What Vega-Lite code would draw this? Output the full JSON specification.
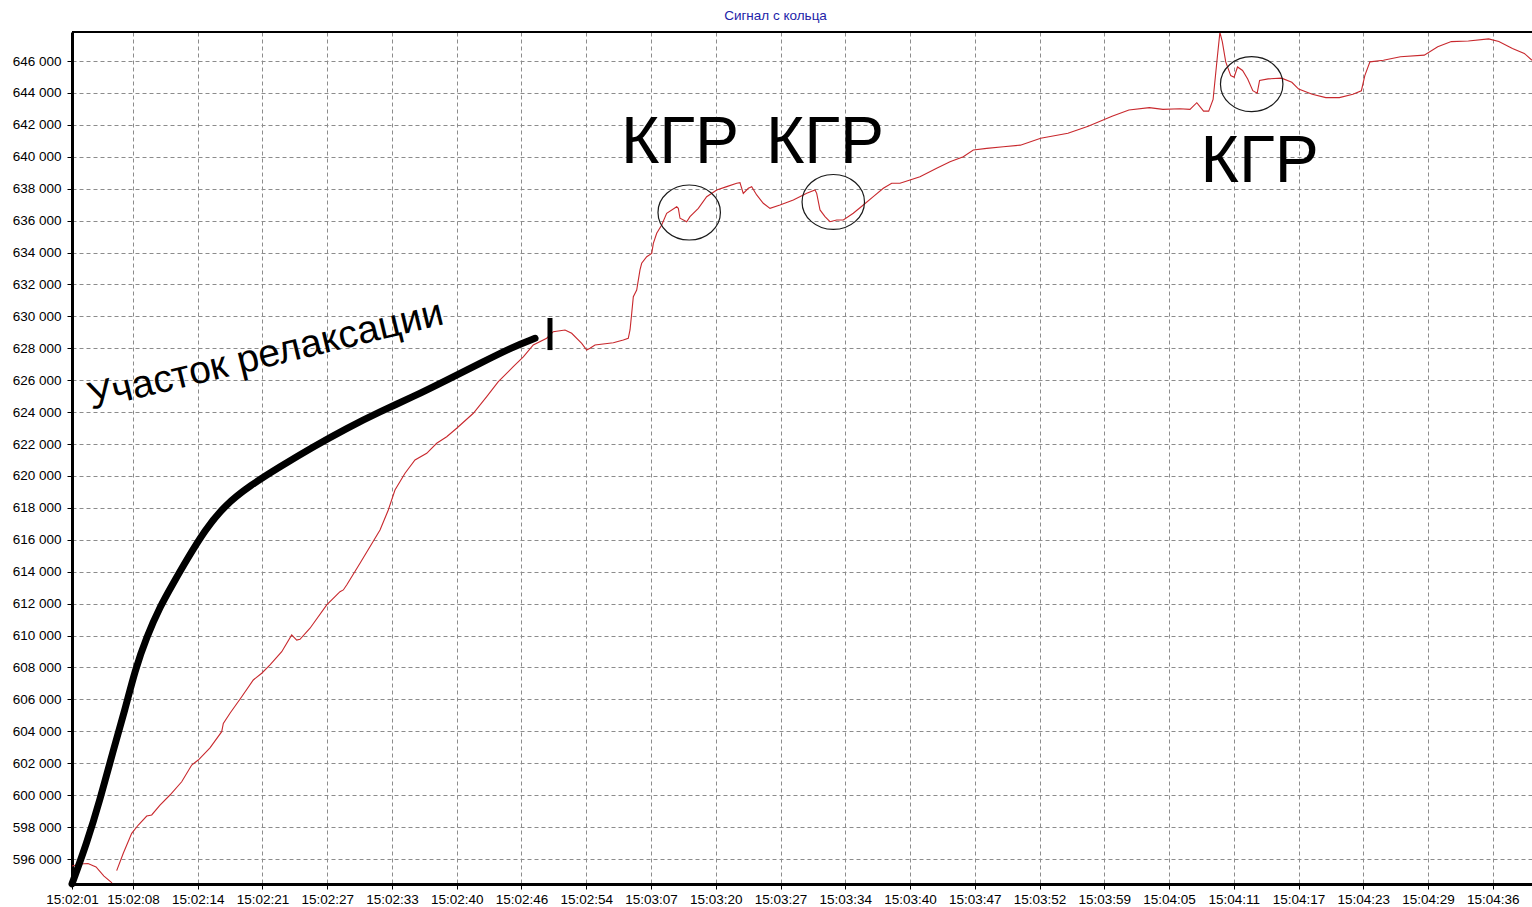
{
  "$schema": "https://vega.github.io/schema/vega-lite/v6.json",
  "width": 1460,
  "height": 852,
  "autosize": {"type": "none"},
  "padding": {"left": 72, "top": 32, "right": 0, "bottom": 23},
  "background": "white",
  "title": {"text": "Сигнал с кольца", "fontSize": 13.5, "font": "Liberation Sans", "fontWeight": "normal", "color": "#2323a8", "anchor": "middle", "frame": "group", "dx": -26.5, "dy": 14, "offset": 12, "baseline": "alphabetic"},
  "config": {
    "view": {"stroke": null},
    "axis": {"gridDash": [4, 3], "gridColor": "#8c8c8c", "gridWidth": 1, "gridOpacity": 1, "domainColor": "black", "domainWidth": 3, "tickColor": "black", "tickSize": 5, "tickWidth": 1, "labelFont": "Liberation Sans", "labelFontSize": 13.5, "labelColor": "black", "labelOverlap": false, "labelSeparation": 0},
    "axisY": {"labelOverlap": false},
    "axisX": {"labelOverlap": false}
  },
  "datasets": {
    "signal": [
      {"n": 0.58, "v": 595560, "seg": "a"}, {"n": 1.81, "v": 595690, "seg": "a"}, {"n": 3.05, "v": 595720, "seg": "a"}, {"n": 4.29, "v": 595500, "seg": "a"}, {"n": 5.52, "v": 594930, "seg": "a"}, {"n": 6.76, "v": 594500, "seg": "a"},
      {"n": 7.48, "v": 595270, "seg": "b"}, {"n": 8.50, "v": 596360, "seg": "b"}, {"n": 9.80, "v": 597610, "seg": "b"}, {"n": 10.82, "v": 598130, "seg": "b"}, {"n": 12.12, "v": 598690, "seg": "b"}, {"n": 12.89, "v": 598760, "seg": "b"}, {"n": 14.17, "v": 599380, "seg": "b"}, {"n": 15.71, "v": 600010, "seg": "b"}, {"n": 17.52, "v": 600840, "seg": "b"}, {"n": 19.07, "v": 601890, "seg": "b"}, {"n": 20.08, "v": 602200, "seg": "b"}, {"n": 21.89, "v": 602960, "seg": "b"}, {"n": 23.70, "v": 603980, "seg": "b"}, {"n": 23.95, "v": 604500, "seg": "b"}, {"n": 24.98, "v": 605130, "seg": "b"}, {"n": 26.79, "v": 606170, "seg": "b"}, {"n": 28.58, "v": 607220, "seg": "b"}, {"n": 29.88, "v": 607640, "seg": "b"}, {"n": 31.16, "v": 608160, "seg": "b"}, {"n": 32.97, "v": 608990, "seg": "b"}, {"n": 34.51, "v": 610040, "seg": "b"}, {"n": 35.28, "v": 609720, "seg": "b"}, {"n": 35.79, "v": 609770, "seg": "b"}, {"n": 37.34, "v": 610460, "seg": "b"}, {"n": 39.92, "v": 611920, "seg": "b"}, {"n": 41.97, "v": 612750, "seg": "b"}, {"n": 42.48, "v": 612860, "seg": "b"}, {"n": 43.00, "v": 613170, "seg": "b"}, {"n": 45.06, "v": 614530, "seg": "b"}, {"n": 48.15, "v": 616620, "seg": "b"}, {"n": 49.43, "v": 617870, "seg": "b"}, {"n": 50.46, "v": 619120, "seg": "b"}, {"n": 52.01, "v": 620170, "seg": "b"}, {"n": 53.55, "v": 621000, "seg": "b"}, {"n": 55.36, "v": 621420, "seg": "b"}, {"n": 56.90, "v": 622050, "seg": "b"}, {"n": 58.45, "v": 622460, "seg": "b"}, {"n": 59.99, "v": 622990, "seg": "b"}, {"n": 62.56, "v": 623930, "seg": "b"}, {"n": 64.63, "v": 624970, "seg": "b"}, {"n": 66.42, "v": 625910, "seg": "b"}, {"n": 68.73, "v": 626850, "seg": "b"}, {"n": 70.28, "v": 627470, "seg": "b"}, {"n": 71.82, "v": 628210, "seg": "b"}, {"n": 73.89, "v": 628630, "seg": "b"}, {"n": 74.91, "v": 629040, "seg": "b"}, {"n": 76.72, "v": 629150, "seg": "b"}, {"n": 77.75, "v": 628940, "seg": "b"}, {"n": 79.30, "v": 628310, "seg": "b"}, {"n": 80.07, "v": 627890, "seg": "b"}, {"n": 80.58, "v": 628000, "seg": "b"}, {"n": 81.35, "v": 628210, "seg": "b"}, {"n": 84.18, "v": 628350, "seg": "b"}, {"n": 85.72, "v": 628520, "seg": "b"}, {"n": 86.49, "v": 628630, "seg": "b"}, {"n": 86.76, "v": 629150, "seg": "b"}, {"n": 87.02, "v": 630190, "seg": "b"}, {"n": 87.27, "v": 631230, "seg": "b"}, {"n": 87.79, "v": 631650, "seg": "b"}, {"n": 88.30, "v": 632910, "seg": "b"}, {"n": 88.56, "v": 633330, "seg": "b"}, {"n": 89.34, "v": 633740, "seg": "b"}, {"n": 90.11, "v": 633950, "seg": "b"}, {"n": 90.36, "v": 634580, "seg": "b"}, {"n": 90.88, "v": 635210, "seg": "b"}, {"n": 91.65, "v": 635730, "seg": "b"}, {"n": 92.42, "v": 636460, "seg": "b"}, {"n": 93.97, "v": 636870, "seg": "b"}, {"n": 94.22, "v": 636770, "seg": "b"}, {"n": 94.48, "v": 636150, "seg": "b"}, {"n": 95.51, "v": 635930, "seg": "b"}, {"n": 96.02, "v": 636250, "seg": "b"}, {"n": 97.31, "v": 636770, "seg": "b"}, {"n": 98.60, "v": 637500, "seg": "b"}, {"n": 100.15, "v": 637920, "seg": "b"}, {"n": 101.69, "v": 638130, "seg": "b"}, {"n": 103.24, "v": 638340, "seg": "b"}, {"n": 103.74, "v": 638380, "seg": "b"}, {"n": 104.25, "v": 637710, "seg": "b"}, {"n": 105.03, "v": 638030, "seg": "b"}, {"n": 105.55, "v": 638130, "seg": "b"}, {"n": 106.32, "v": 637610, "seg": "b"}, {"n": 107.34, "v": 637090, "seg": "b"}, {"n": 108.38, "v": 636770, "seg": "b"}, {"n": 109.92, "v": 636980, "seg": "b"}, {"n": 111.98, "v": 637290, "seg": "b"}, {"n": 114.05, "v": 637710, "seg": "b"}, {"n": 115.33, "v": 637920, "seg": "b"}, {"n": 115.59, "v": 637710, "seg": "b"}, {"n": 116.10, "v": 636670, "seg": "b"}, {"n": 116.87, "v": 636250, "seg": "b"}, {"n": 117.64, "v": 635930, "seg": "b"}, {"n": 118.68, "v": 636040, "seg": "b"}, {"n": 119.70, "v": 636040, "seg": "b"}, {"n": 121.24, "v": 636460, "seg": "b"}, {"n": 122.79, "v": 636980, "seg": "b"}, {"n": 124.33, "v": 637500, "seg": "b"}, {"n": 125.88, "v": 638030, "seg": "b"}, {"n": 127.17, "v": 638340, "seg": "b"}, {"n": 128.45, "v": 638340, "seg": "b"}, {"n": 130.00, "v": 638550, "seg": "b"}, {"n": 131.54, "v": 638750, "seg": "b"}, {"n": 134.12, "v": 639280, "seg": "b"}, {"n": 136.18, "v": 639690, "seg": "b"}, {"n": 138.23, "v": 640010, "seg": "b"}, {"n": 139.78, "v": 640430, "seg": "b"}, {"n": 141.85, "v": 640530, "seg": "b"}, {"n": 144.41, "v": 640630, "seg": "b"}, {"n": 147.05, "v": 640730, "seg": "b"}, {"n": 150.18, "v": 641160, "seg": "b"}, {"n": 154.39, "v": 641480, "seg": "b"}, {"n": 157.52, "v": 641910, "seg": "b"}, {"n": 161.20, "v": 642540, "seg": "b"}, {"n": 163.81, "v": 642930, "seg": "b"}, {"n": 166.96, "v": 643080, "seg": "b"}, {"n": 169.06, "v": 642970, "seg": "b"}, {"n": 171.67, "v": 643010, "seg": "b"}, {"n": 173.24, "v": 642970, "seg": "b"}, {"n": 174.29, "v": 643390, "seg": "b"}, {"n": 175.34, "v": 642860, "seg": "b"}, {"n": 176.13, "v": 642860, "seg": "b"}, {"n": 176.81, "v": 643600, "seg": "b"}, {"n": 177.44, "v": 646160, "seg": "b"}, {"n": 177.86, "v": 647800, "seg": "b"}, {"n": 178.23, "v": 647220, "seg": "b"}, {"n": 178.76, "v": 645950, "seg": "b"}, {"n": 179.53, "v": 645090, "seg": "b"}, {"n": 180.05, "v": 644990, "seg": "b"}, {"n": 180.58, "v": 645630, "seg": "b"}, {"n": 181.36, "v": 645410, "seg": "b"}, {"n": 182.15, "v": 644880, "seg": "b"}, {"n": 182.94, "v": 644140, "seg": "b"}, {"n": 183.62, "v": 643990, "seg": "b"}, {"n": 183.99, "v": 644780, "seg": "b"}, {"n": 185.31, "v": 644880, "seg": "b"}, {"n": 187.39, "v": 644930, "seg": "b"}, {"n": 188.97, "v": 644670, "seg": "b"}, {"n": 190.02, "v": 644240, "seg": "b"}, {"n": 192.12, "v": 643920, "seg": "b"}, {"n": 194.22, "v": 643710, "seg": "b"}, {"n": 196.31, "v": 643710, "seg": "b"}, {"n": 198.40, "v": 643920, "seg": "b"}, {"n": 199.71, "v": 644140, "seg": "b"}, {"n": 200.24, "v": 645090, "seg": "b"}, {"n": 201.03, "v": 645950, "seg": "b"}, {"n": 203.11, "v": 646050, "seg": "b"}, {"n": 205.74, "v": 646270, "seg": "b"}, {"n": 209.42, "v": 646370, "seg": "b"}, {"n": 211.50, "v": 646900, "seg": "b"}, {"n": 213.60, "v": 647220, "seg": "b"}, {"n": 216.23, "v": 647260, "seg": "b"}, {"n": 219.36, "v": 647390, "seg": "b"}, {"n": 220.94, "v": 647220, "seg": "b"}, {"n": 223.04, "v": 646790, "seg": "b"}, {"n": 224.87, "v": 646480, "seg": "b"}, {"n": 226.06, "v": 646050, "seg": "b"}
    ],
    "relax": [
      {"n": 0.58, "v": 594440}, {"n": 2.85, "v": 596980}, {"n": 4.90, "v": 599700}, {"n": 6.96, "v": 602830}, {"n": 8.76, "v": 605340}, {"n": 10.31, "v": 607840}, {"n": 12.12, "v": 609930}, {"n": 14.17, "v": 611810}, {"n": 16.22, "v": 613280}, {"n": 18.29, "v": 614740}, {"n": 21.12, "v": 616620}, {"n": 24.21, "v": 618180}, {"n": 28.07, "v": 619400}, {"n": 32.70, "v": 620580}, {"n": 37.85, "v": 621830}, {"n": 43.00, "v": 622990}, {"n": 48.15, "v": 624030}, {"n": 53.29, "v": 624970}, {"n": 58.45, "v": 626010}, {"n": 63.59, "v": 627060}, {"n": 68.73, "v": 628100}, {"n": 72.09, "v": 628630}
    ],
    "frame": [{"n": 0.58, "n2": 226.06, "v": 647820}],
    "bar": [{"n": 74.40, "v": 629900, "v2": 627890}],
    "circles": [{"n": 95.90, "v": 636510}, {"n": 118.15, "v": 637170}, {"n": 182.77, "v": 644550}],
    "kgr": [{"n": 94.48, "v": 639610, "label": "КГР"}, {"n": 116.87, "v": 639610, "label": "КГР"}, {"n": 183.99, "v": 638420, "label": "КГР"}],
    "note": [{"n": 30.90, "v": 626840, "label": "Участок релаксации"}]
  },
  "encoding": {
    "x": {"field": "n", "type": "quantitative", "scale": {"domain": [0.58, 226.06], "nice": false, "zero": false},
      "axis": {"title": null, "values": [0.58, 10, 20, 30, 40, 50, 60, 70, 80, 90, 100, 110, 120, 130, 140, 150, 160, 170, 180, 190, 200, 210, 220], "labelExpr": "['15:02:01','15:02:08','15:02:14','15:02:21','15:02:27','15:02:33','15:02:40','15:02:46','15:02:54','15:03:07','15:03:20','15:03:27','15:03:34','15:03:40','15:03:47','15:03:52','15:03:59','15:04:05','15:04:11','15:04:17','15:04:23','15:04:29','15:04:36'][round(datum.value/10)]", "grid": true, "labelPadding": 3, "labelFlush": false, "labelOverlap": false}},
    "y": {"field": "v", "type": "quantitative", "scale": {"domain": [594434, 647820], "nice": false, "zero": false},
      "axis": {"title": null, "values": [596000, 598000, 600000, 602000, 604000, 606000, 608000, 610000, 612000, 614000, 616000, 618000, 620000, 622000, 624000, 626000, 628000, 630000, 632000, 634000, 636000, 638000, 640000, 642000, 644000, 646000], "labelExpr": "replace(format(datum.value, ','), ',', ' ')", "grid": true, "labelPadding": 6, "labelOverlap": false}}
  },
  "layer": [
    {
      "data": {"name": "signal"},
      "mark": {"type": "line", "color": "#c8282d", "strokeWidth": 1.1, "clip": true},
      "encoding": {"detail": {"field": "seg"}}
    },
    {
      "data": {"name": "frame"},
      "mark": {"type": "rule", "color": "black", "strokeWidth": 2},
      "encoding": {"x2": {"field": "n2"}}
    },
    {
      "data": {"name": "relax"},
      "mark": {"type": "line", "color": "black", "strokeWidth": 7, "strokeCap": "round", "interpolate": "basis"},
      "encoding": {}
    },
    {
      "data": {"name": "bar"},
      "mark": {"type": "rule", "color": "black", "strokeWidth": 5},
      "encoding": {"y2": {"field": "v2"}}
    },
    {
      "data": {"name": "circles"},
      "mark": {"type": "point", "shape": "M-1,0A1,0.88,0,1,0,1,0A1,0.88,0,1,0,-1,0Z", "filled": false, "stroke": "#1a1a1a", "strokeWidth": 1.2, "size": 3900, "opacity": 1},
      "encoding": {}
    },
    {
      "data": {"name": "kgr"},
      "mark": {"type": "text", "font": "Liberation Sans", "fontSize": 66, "color": "black", "align": "center", "baseline": "alphabetic"},
      "encoding": {"text": {"field": "label"}}
    },
    {
      "data": {"name": "note"},
      "mark": {"type": "text", "font": "Liberation Sans", "fontSize": 39, "color": "black", "align": "center", "baseline": "alphabetic", "angle": 346.4},
      "encoding": {"text": {"field": "label"}}
    }
  ]
}
